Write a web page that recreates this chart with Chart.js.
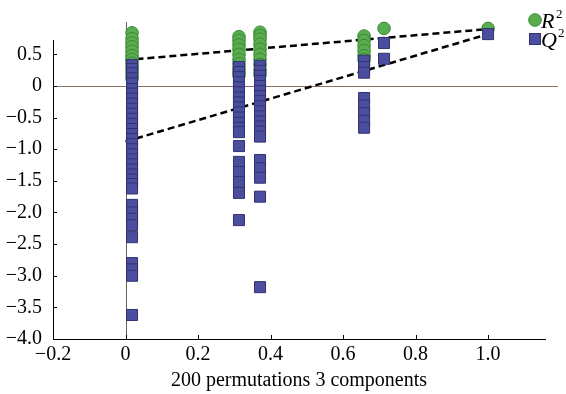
<!DOCTYPE html>
<html>
<head>
<meta charset="utf-8">
<script src="https://cdn.jsdelivr.net/npm/chart.js@4"></script>
<style>
  html, body { margin: 0; padding: 0; background: #fff; }
  #wrap { width: 566px; height: 394px; position: relative; }
</style>
</head>
<body>
<div id="wrap"><canvas id="permChart"></canvas></div>
<script>
// correlation of permuted y with original y, and the R2 / Q2 of each model
const r2Corr = [
  0.018, 0.018, 0.018, 0.018, 0.018, 0.018, 0.018, 0.018, 0.018, 0.018, 0.018, 0.018,
  0.313, 0.313, 0.313, 0.313, 0.313, 0.313, 0.313, 0.313, 0.313, 0.313,
  0.371, 0.371, 0.371, 0.371, 0.371, 0.371, 0.371, 0.371, 0.371, 0.371,
  0.658, 0.658, 0.658, 0.658, 0.658, 0.658,
  0.713, 1.0
];
const r2Vals = [
  0.84, 0.75, 0.68, 0.62, 0.55, 0.48, 0.42, 0.36, 0.30, 0.24, 0.18, 0.12,
  0.78, 0.72, 0.65, 0.58, 0.50, 0.42, 0.35, 0.28, 0.22, 0.17,
  0.85, 0.80, 0.74, 0.66, 0.58, 0.50, 0.42, 0.34, 0.25, 0.18,
  0.79, 0.72, 0.64, 0.56, 0.48, 0.42,
  0.91, 0.91
];
const q2Corr = [
  0.018, 0.018, 0.018, 0.018, 0.018, 0.018, 0.018, 0.018, 0.018, 0.018, 0.018, 0.018,
  0.018, 0.018, 0.018, 0.018, 0.018, 0.018, 0.018, 0.018, 0.018, 0.018, 0.018, 0.018,
  0.018, 0.018, 0.018, 0.018, 0.018, 0.018, 0.018, 0.018, 0.018, 0.018, 0.018,
  0.313, 0.313, 0.313, 0.313, 0.313, 0.313, 0.313, 0.313, 0.313, 0.313,
  0.313, 0.313, 0.313, 0.313, 0.313, 0.313, 0.313, 0.313, 0.313, 0.313,
  0.371, 0.371, 0.371, 0.371, 0.371, 0.371, 0.371, 0.371, 0.371, 0.371,
  0.371, 0.371, 0.371, 0.371, 0.371, 0.371, 0.371, 0.371, 0.371, 0.371,
  0.658, 0.658, 0.658, 0.658, 0.658, 0.658, 0.658, 0.658,
  0.713, 0.713, 1.0
];
const q2Vals = [
  0.33, 0.27, 0.20, 0.12, 0.04, -0.05, -0.12, -0.20, -0.28, -0.36, -0.44, -0.52,
  -0.60, -0.68, -0.76, -0.84, -0.92, -1.00, -1.08, -1.16, -1.24, -1.32, -1.40, -1.48,
  -1.55, -1.62, -1.88, -2.00, -2.10, -2.20, -2.39, -2.80, -2.90, -3.00, -3.62,
  0.30, 0.22, 0.14, 0.06, -0.02, -0.10, -0.18, -0.26, -0.34, -0.42,
  -0.50, -0.58, -0.66, -0.73, -0.95, -1.20, -1.36, -1.52, -1.69, -2.12,
  0.32, 0.24, 0.16, 0.08, 0.00, -0.08, -0.16, -0.24, -0.32, -0.40,
  -0.48, -0.56, -0.64, -0.72, -0.80, -1.17, -1.30, -1.45, -1.75, -3.18,
  0.40, 0.30, 0.21, -0.19, -0.31, -0.43, -0.55, -0.66,
  0.68, 0.43, 0.82
];
// intercept lines
const lineX = [0, 1.0];
const r2Line = [0.41, 0.90];
const q2Line = [-0.88, 0.82];

const xTicks = [-0.2, 0, 0.2, 0.4, 0.6, 0.8, 1.0];
const yTicks = [0.5, 0, -0.5, -1.0, -1.5, -2.0, -2.5, -3.0, -3.5, -4.0];
const yAxisTop = 0.727; // where the drawn y axis line stops

const FONT = "'Liberation Serif', 'Times New Roman', serif";

function fmt(v, digits) {
  if (v === 0) return '0';
  const s = Math.abs(v).toFixed(digits);
  return v < 0 ? '\u2212' + s : s;
}

const pts = (xs, ys) => xs.map((x, i) => ({ x: x, y: ys[i] }));

// y axis line, inward tick marks, zero lines and the R2/Q2 key
const decorPlugin = {
  id: 'decor',
  beforeDatasetsDraw(chart) {
    const { ctx, chartArea, scales: { x, y } } = chart;
    ctx.save();
    ctx.lineWidth = 1;
    ctx.strokeStyle = '#8a7264';
    const y0 = Math.round(y.getPixelForValue(0)) + 0.5;
    ctx.beginPath();
    ctx.moveTo(chartArea.left, y0);
    ctx.lineTo(558, y0);
    ctx.stroke();
    ctx.strokeStyle = '#6e5d58';
    const x0 = Math.round(x.getPixelForValue(0)) + 0.5;
    ctx.beginPath();
    ctx.moveTo(x0, 22);
    ctx.lineTo(x0, chartArea.bottom);
    ctx.stroke();
    ctx.restore();
  },
  afterDraw(chart) {
    const { ctx, chartArea, scales: { x, y } } = chart;
    ctx.save();
    ctx.strokeStyle = '#000';
    ctx.lineWidth = 1;
    ctx.beginPath();
    const ax = Math.round(chartArea.left) + 0.5;
    ctx.moveTo(ax, Math.round(y.getPixelForValue(yAxisTop)));
    ctx.lineTo(ax, chartArea.bottom);
    yTicks.forEach(v => {
      const py = Math.round(y.getPixelForValue(v)) + 0.5;
      ctx.moveTo(chartArea.left, py);
      ctx.lineTo(chartArea.left + 4, py);
    });
    xTicks.forEach(v => {
      const px = Math.round(x.getPixelForValue(v)) + 0.5;
      ctx.moveTo(px, chartArea.bottom);
      ctx.lineTo(px, chartArea.bottom - 4);
    });
    ctx.stroke();

    // key
    ctx.fillStyle = '#5aad4e';
    ctx.strokeStyle = '#3b8a37';
    ctx.beginPath();
    ctx.arc(535, 20, 6.3, 0, Math.PI * 2);
    ctx.fill();
    ctx.stroke();
    ctx.fillStyle = '#4b4e9e';
    ctx.strokeStyle = '#30336f';
    ctx.fillRect(529.5, 33.5, 11, 11);
    ctx.strokeRect(529.5, 33.5, 11, 11);

    ctx.fillStyle = '#000';
    ctx.textBaseline = 'alphabetic';
    ctx.font = 'italic 22px ' + FONT;
    ctx.fillText('R', 541, 28);
    ctx.fillText('Q', 541, 47);
    ctx.font = '13px ' + FONT;
    ctx.fillText('2', 556, 18);
    ctx.fillText('2', 558, 37);
    ctx.restore();
  }
};

const ctx = document.getElementById('permChart').getContext('2d');
new Chart(ctx, {
  type: 'scatter',
  data: {
    datasets: [
      {
        label: 'Q2',
        data: pts(q2Corr, q2Vals),
        pointStyle: 'rect',
        pointRadius: 7.8,
        backgroundColor: '#4b4e9e',
        borderColor: '#30336f',
        borderWidth: 1,
        clip: false,
        order: 1
      },
      {
        label: 'R2',
        data: pts(r2Corr, r2Vals),
        pointStyle: 'circle',
        pointRadius: 6.3,
        backgroundColor: '#5aad4e',
        borderColor: '#3b8a37',
        borderWidth: 1,
        clip: false,
        order: 2
      },
      {
        label: 'R2 line',
        type: 'line',
        data: pts(lineX, r2Line),
        borderColor: '#000',
        borderWidth: 2.5,
        borderDash: [7, 4],
        pointRadius: 0,
        fill: false,
        clip: false,
        order: 3
      },
      {
        label: 'Q2 line',
        type: 'line',
        data: pts(lineX, q2Line),
        borderColor: '#000',
        borderWidth: 2.5,
        borderDash: [7, 4],
        pointRadius: 0,
        fill: false,
        clip: false,
        order: 3
      }
    ]
  },
  options: {
    responsive: true,
    maintainAspectRatio: false,
    animation: false,
    layout: { padding: { top: 20, right: 21, left: 0, bottom: 0 } },
    plugins: {
      legend: { display: false },
      tooltip: { enabled: false }
    },
    scales: {
      x: {
        type: 'linear',
        min: -0.2,
        max: 1.157,
        afterBuildTicks: s => { s.ticks = xTicks.map(v => ({ value: v })); },
        afterFit: s => { s.height = 55; },
        grid: { display: false },
        border: { display: true, color: '#000', width: 1 },
        ticks: {
          color: '#000',
          padding: -4,
          maxRotation: 0,
          autoSkip: false,
          font: { family: FONT, size: 20 },
          callback: v => fmt(v, 1)
        },
        title: {
          display: true,
          text: '200 permutations 3 components',
          color: '#000',
          font: { family: FONT, size: 20 },
          padding: { top: 0, bottom: 1 }
        }
      },
      y: {
        type: 'linear',
        min: -4,
        max: 1.043,
        afterBuildTicks: s => { s.ticks = yTicks.map(v => ({ value: v })); },
        afterFit: s => { s.width = 53; },
        grid: { display: false },
        border: { display: false },
        ticks: {
          color: '#000',
          padding: 3,
          autoSkip: false,
          font: { family: FONT, size: 20 },
          callback: v => fmt(v, 1)
        }
      }
    }
  },
  plugins: [decorPlugin]
});
</script>
</body>
</html>
